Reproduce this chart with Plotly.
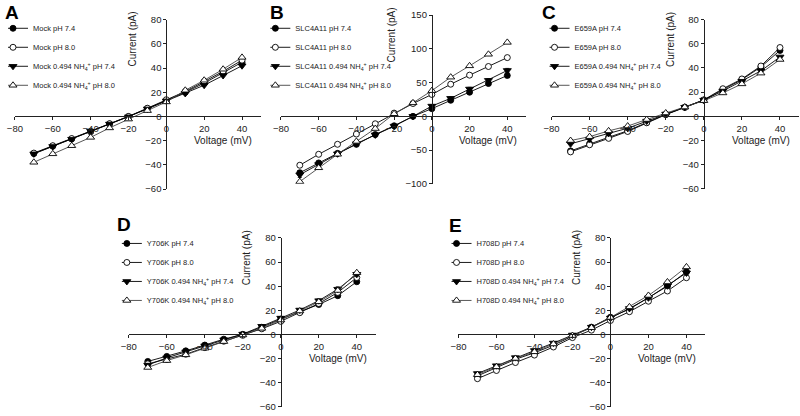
import plotly.graph_objects as go

voltage = [-70, -60, -50, -40, -30, -20, -10, 0, 10, 20, 30, 40]

conditions = [
    "pH 7.4",
    "pH 8.0",
    "0.494 NH<sub>4</sub><sup>+</sup> pH 7.4",
    "0.494 NH<sub>4</sub><sup>+</sup> pH 8.0",
]

# A - Mock
mock_ph74 = [-30.7, -24.6, -18.6, -12.6, -6.2, -0.2, 6.5, 13.0, 20.0, 27.5, 36.0, 44.8]
mock_ph80 = [-30.3, -24.2, -18.3, -12.3, -6.0, 0.0, 6.8, 13.8, 20.6, 28.8, 37.3, 46.5]
mock_nh4_ph74 = [-30.9, -24.8, -18.8, -12.2, -6.3, -0.3, 6.2, 12.8, 19.0, 25.8, 33.8, 41.9]
mock_nh4_ph80 = [-37.9, -30.9, -24.2, -17.3, -9.5, -2.2, 4.8, 12.0, 21.6, 29.9, 39.0, 48.8]

# B - SLC4A11
slc_ph74 = [-83.5, -69.0, -54.8, -41.5, -27.0, -14.0, 0.0, 11.4, 23.8, 35.7, 48.6, 60.5]
slc_ph80 = [-72.4, -56.2, -41.4, -26.2, -11.0, 4.8, 19.0, 32.4, 47.6, 61.0, 73.8, 87.0]
slc_nh4_ph74 = [-86.5, -71.4, -55.5, -40.5, -27.5, -14.5, 0.0, 15.2, 26.7, 40.5, 53.3, 68.0]
slc_nh4_ph80 = [-96.7, -76.2, -56.2, -37.1, -18.1, 3.8, 20.0, 38.0, 58.0, 74.8, 91.9, 109.5]
slc_ph74_err = [3.0, 2.0, 1.5, 1.0, 1.0, 1.0, 1.0, 1.5, 1.5, 2.0, 2.0, 2.5]
slc_nh4_ph74_err = [4.0, 2.5, 1.5, 1.0, 1.0, 1.0, 1.0, 2.0, 2.0, 2.5, 2.5, 3.0]

# C - E659A
e659a_ph74 = [-28.7, -22.8, -17.4, -12.0, -5.0, 1.5, 7.5, 13.4, 22.0, 30.3, 40.8, 54.5]
e659a_ph80 = [-29.5, -23.6, -18.3, -12.6, -5.4, 1.3, 7.3, 13.6, 22.8, 30.9, 41.6, 56.9]
e659a_nh4_ph74 = [-22.8, -18.8, -14.2, -9.9, -4.0, 1.9, 7.5, 13.4, 20.9, 29.0, 37.6, 49.1]
e659a_nh4_ph80 = [-20.1, -16.9, -12.1, -8.1, -2.7, 2.7, 7.6, 12.9, 19.3, 26.8, 35.7, 47.0]

# D - Y706K
y706k_ph74 = [-22.5, -18.3, -13.7, -8.9, -4.0, 0.0, 5.9, 12.7, 18.6, 24.8, 32.1, 43.7]
y706k_ph80 = [-24.5, -20.8, -16.5, -11.0, -5.7, -0.8, 4.6, 10.8, 18.0, 25.6, 34.8, 47.2]
y706k_nh4_ph74 = [-25.5, -19.5, -14.5, -9.5, -4.5, 0.2, 6.7, 13.5, 20.2, 28.0, 37.5, 49.9]
y706k_nh4_ph80 = [-27.5, -21.8, -17.0, -11.5, -6.0, -0.5, 5.0, 11.9, 19.4, 27.0, 36.4, 51.2]
y706k_nh4_ph74_err = [1.0, 1.0, 1.0, 1.0, 1.0, 1.0, 1.0, 1.0, 1.0, 1.5, 2.0, 2.0]

# E - H708D
h708d_ph74 = [-34.5, -27.4, -20.7, -15.3, -9.0, -1.5, 6.0, 14.2, 20.9, 30.5, 40.0, 52.0]
h708d_ph80 = [-36.8, -30.0, -23.4, -17.2, -10.5, -2.7, 3.5, 11.5, 18.8, 27.5, 36.0, 47.0]
h708d_nh4_ph74 = [-32.5, -26.0, -19.3, -13.4, -7.2, -0.5, 6.0, 13.5, 21.5, 30.3, 40.3, 51.0]
h708d_nh4_ph80 = [-33.5, -27.0, -20.0, -14.5, -8.0, -1.0, 5.5, 14.0, 22.8, 32.3, 43.5, 56.0]

panels = [
    dict(letter="A", construct="Mock",
         series=[mock_ph74, mock_ph80, mock_nh4_ph74, mock_nh4_ph80],
         errs=[None, None, None, None], yrange=[-60, 80], ydtick=20),
    dict(letter="B", construct="SLC4A11",
         series=[slc_ph74, slc_ph80, slc_nh4_ph74, slc_nh4_ph80],
         errs=[slc_ph74_err, None, slc_nh4_ph74_err, None], yrange=[-100, 150], ydtick=50),
    dict(letter="C", construct="E659A",
         series=[e659a_ph74, e659a_ph80, e659a_nh4_ph74, e659a_nh4_ph80],
         errs=[None, None, None, None], yrange=[-60, 80], ydtick=20),
    dict(letter="D", construct="Y706K",
         series=[y706k_ph74, y706k_ph80, y706k_nh4_ph74, y706k_nh4_ph80],
         errs=[None, None, y706k_nh4_ph74_err, None], yrange=[-60, 80], ydtick=20),
    dict(letter="E", construct="H708D",
         series=[h708d_ph74, h708d_ph80, h708d_nh4_ph74, h708d_nh4_ph80],
         errs=[None, None, None, None], yrange=[-60, 80], ydtick=20),
]

# pixel boxes of each panel: left/right of x range, top/bottom of y range,
# legend top-left corner, panel letter top-left corner
W, H = 800, 416
boxes = [
    dict(x0=7, x1=255.5, top=14, bottom=188, leg=(0, 8), letter=(-5, -6), ytitle_shift=-34),
    dict(x0=275.7, x1=523.4, top=9.3, bottom=182.7, leg=(265, 8), letter=(263, -6),
         ytitle_shift=-40),
    dict(x0=549, x1=799, top=14, bottom=187.7, leg=(547, 8), letter=(537, -6), ytitle_shift=-34),
    dict(x0=122, x1=371.5, top=238.3, bottom=411.5, leg=(115, 229), letter=(108, 212),
         ytitle_shift=-34),
    dict(x0=455, x1=704.5, top=238.3, bottom=411.5, leg=(448, 229), letter=(443, 213),
         ytitle_shift=-34),
]

styles = [
    dict(symbol="circle", size=6, fill="black", line="black"),
    dict(symbol="circle", size=6, fill="white", line="black"),
    dict(symbol="triangle-down", size=7, fill="black", line="black"),
    dict(symbol="triangle-up", size=7, fill="white", line="#444"),
]

font = "Liberation Sans, Arial, sans-serif"
xrange = [-80, 50]

fig = go.Figure()
annotations = []

for i, (p, b) in enumerate(zip(panels, boxes), start=1):
    sfx = "" if i == 1 else str(i)
    xref, yref = "x" + sfx, "y" + sfx
    leg = "legend" + sfx

    for vals, err, cond, st in zip(p["series"], p["errs"], conditions, styles):
        fig.add_trace(go.Scatter(
            x=voltage, y=vals,
            mode="lines+markers",
            name=f"{p['construct']} {cond}",
            xaxis=xref, yaxis=yref, legend=leg,
            line=dict(color=st["line"], width=0.9),
            marker=dict(symbol=st["symbol"], size=st["size"], color=st["fill"],
                        line=dict(color="black", width=0.9)),
            error_y=dict(type="data", array=err, color="black", thickness=0.8, width=2)
            if err else None,
        ))

    xdom = [b["x0"] / W, b["x1"] / W]
    ydom = [1 - b["bottom"] / H, 1 - b["top"] / H]
    yr = p["yrange"]
    # axes cross at the origin
    ypos = xdom[0] + (0 - xrange[0]) / (xrange[1] - xrange[0]) * (xdom[1] - xdom[0])
    xpos = ydom[0] + (0 - yr[0]) / (yr[1] - yr[0]) * (ydom[1] - ydom[0])

    common = dict(showgrid=False, zeroline=False, showline=True, linecolor="#222",
                  linewidth=1, ticks="outside", ticklen=3, tickwidth=1, tickcolor="#222",
                  tickfont=dict(family=font, size=9.5, color="#222"), anchor="free")
    fig.layout["xaxis" + sfx] = dict(common, domain=xdom, range=xrange, dtick=20, tick0=0,
                                     position=xpos)
    fig.layout["yaxis" + sfx] = dict(common, domain=ydom, range=yr, dtick=p["ydtick"], tick0=0,
                                     position=ypos)

    fig.layout[leg] = dict(x=b["leg"][0] / W, y=1 - b["leg"][1] / H, xanchor="left",
                           yanchor="top", bgcolor="rgba(0,0,0,0)", itemwidth=30,
                           indentation=-15,
                           font=dict(family=font, size=7.5, color="#222"))

    annotations += [
        dict(text=f"<b>{p['letter']}</b>", xref="paper", yref="paper",
             x=b["letter"][0] / W, y=1 - b["letter"][1] / H, xanchor="left", yanchor="top",
             showarrow=False, font=dict(family=font, size=19, color="black")),
        dict(text="Voltage (mV)", xref=xref, yref=yref, x=30, y=0, yshift=-24,
             showarrow=False, font=dict(family=font, size=10, color="#222")),
        dict(text="Current (pA)", xref=xref, yref=yref, x=0, y=yr[1], xshift=b["ytitle_shift"],
             yanchor="top", yshift=10, textangle=-90, showarrow=False,
             font=dict(family=font, size=10, color="#222")),
    ]

fig.update_layout(
    width=W, height=H,
    margin=dict(l=0, r=0, t=0, b=0),
    paper_bgcolor="white", plot_bgcolor="white",
    annotations=annotations,
    showlegend=True,
)

# page body has a default 8px margin; drop it so the figure sits at the corner
fig.write_html("out.html", config={"displayModeBar": False},
               post_script="document.body.style.margin='0';")
